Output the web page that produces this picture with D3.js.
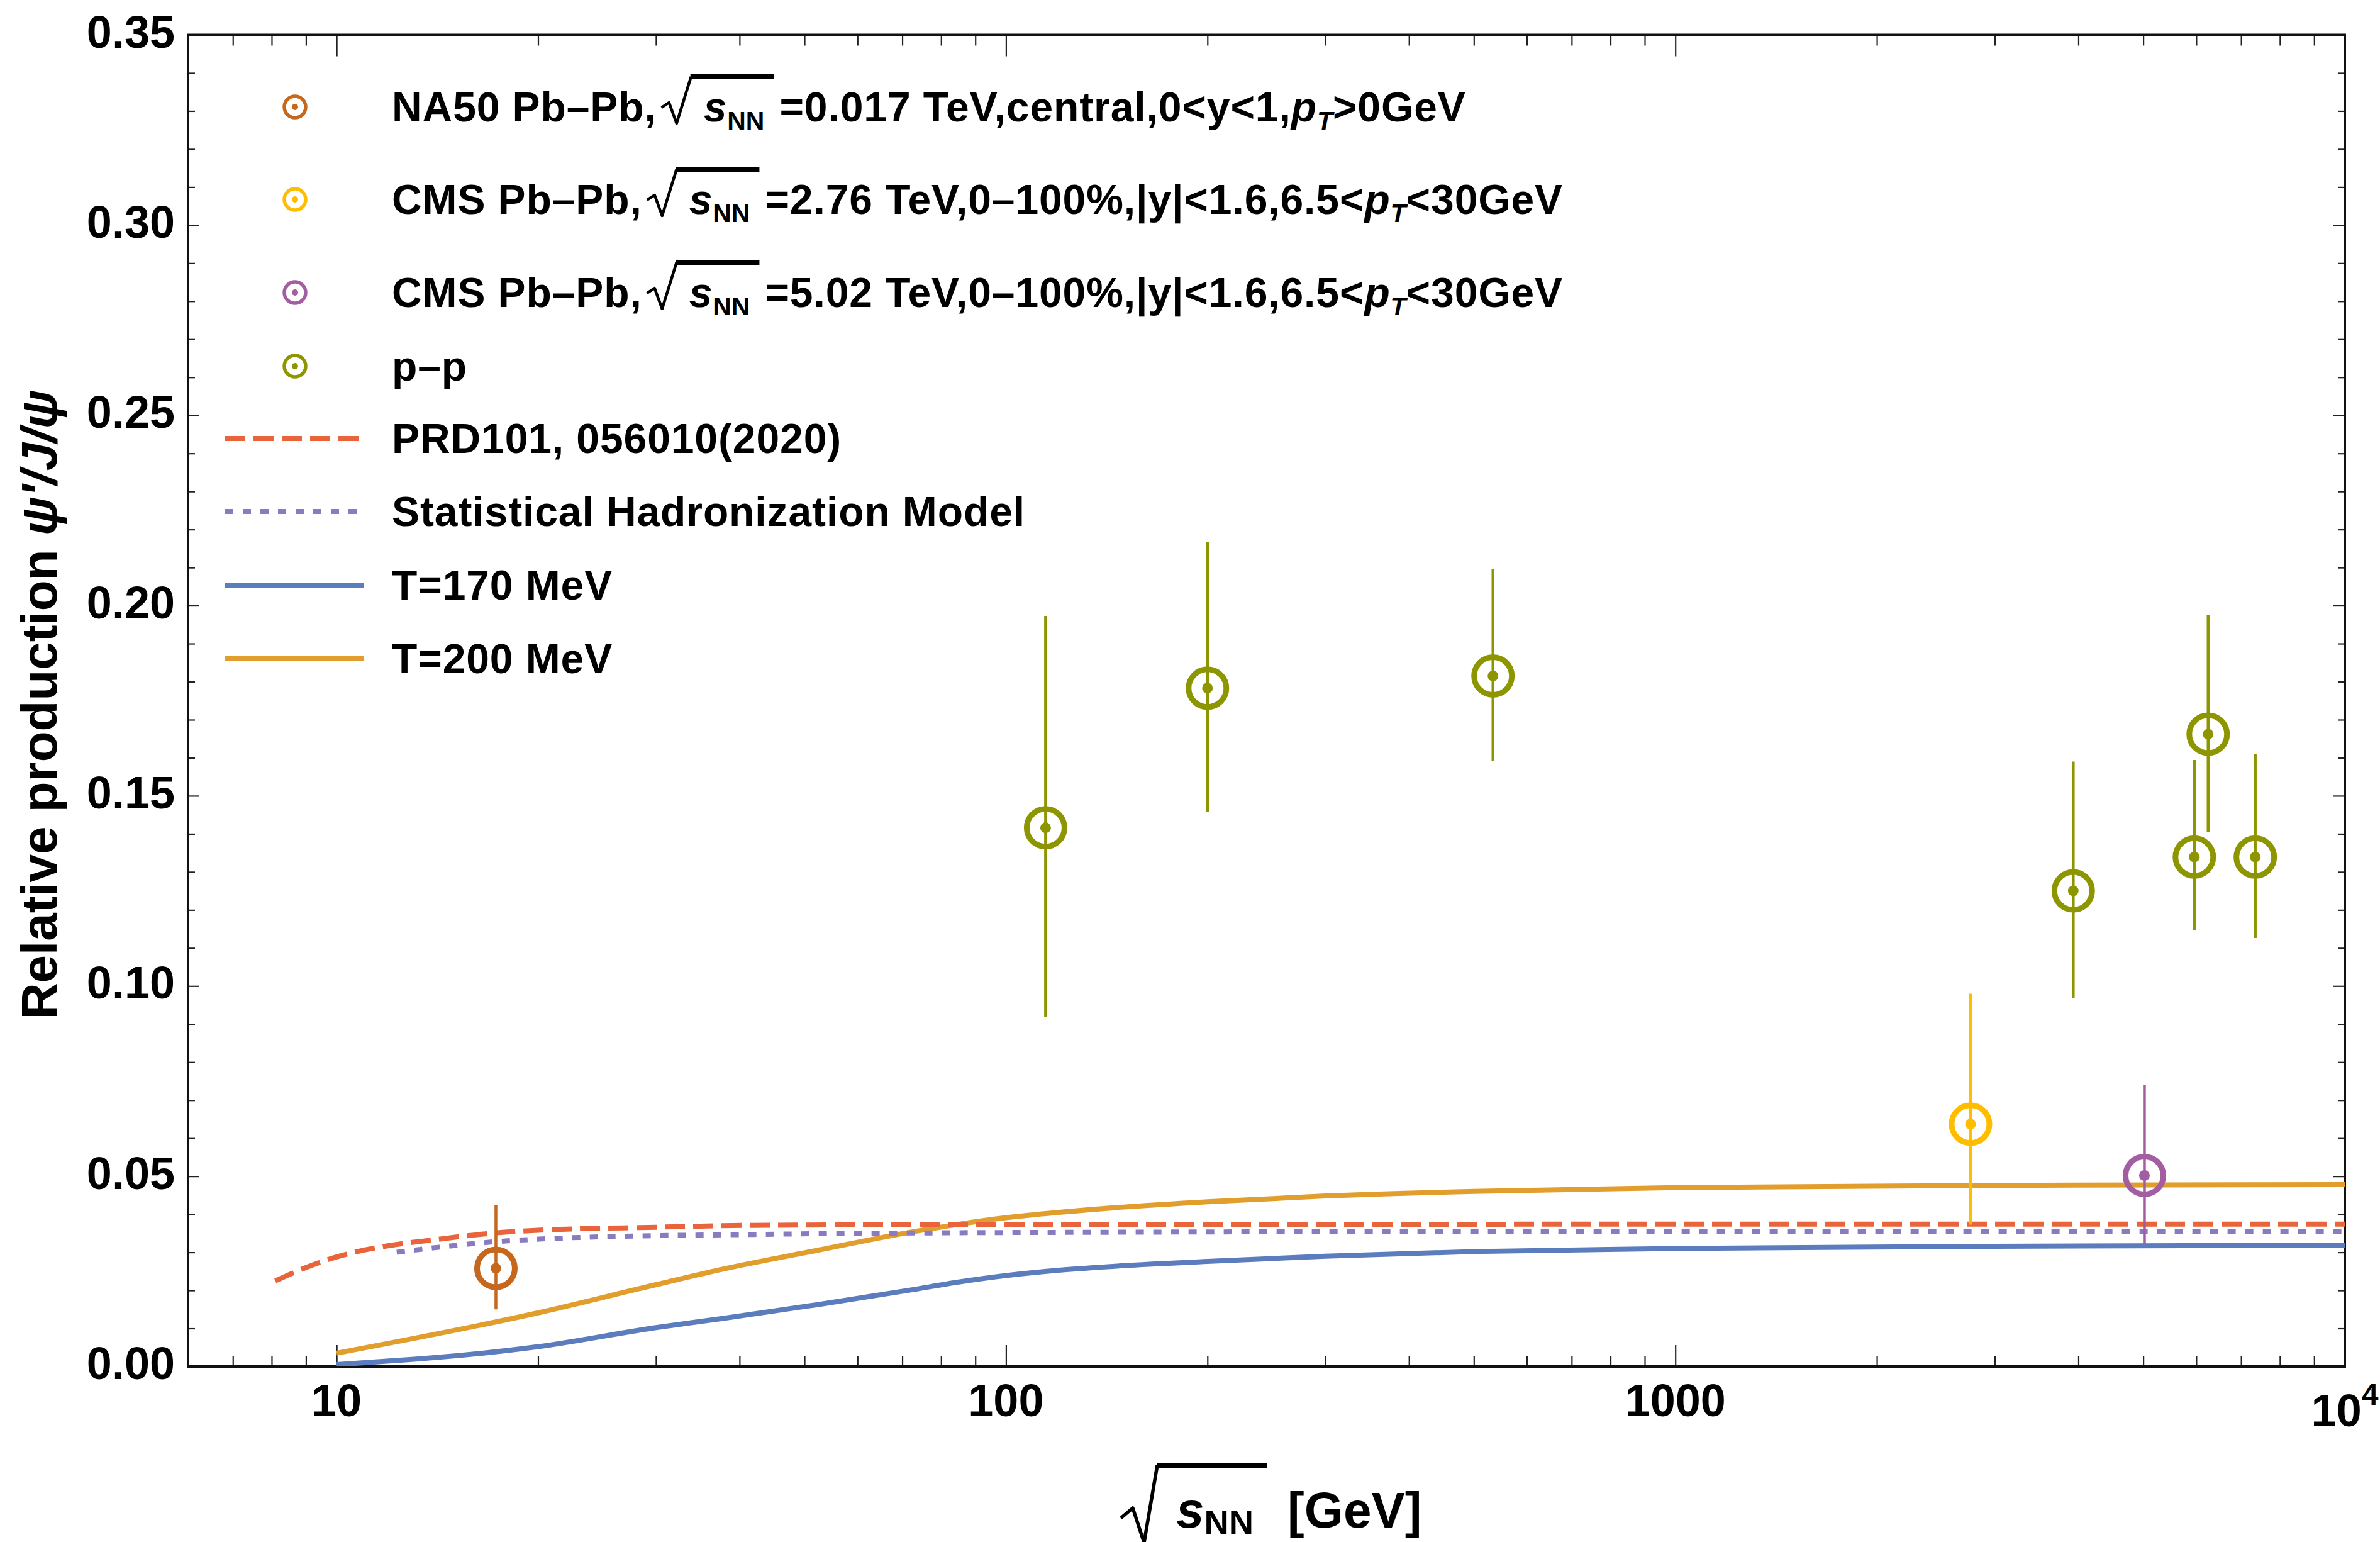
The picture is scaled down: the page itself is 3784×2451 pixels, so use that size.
<!DOCTYPE html>
<html><head><meta charset="utf-8">
<script src="https://cdn.jsdelivr.net/npm/d3@7"></script>
<style>
body{margin:0;background:#fff}
svg{display:block}
text{font-family:"Liberation Sans",Arial,Helvetica,sans-serif;font-weight:bold;white-space:pre}
</style>
</head><body>
<svg id="c" width="3784" height="2451"></svg>
<script>
// ---------- data ----------
const xMajorTicks = [10, 100, 1000, 10000];
const xTickLabels = ["10", "100", "1000", "10^4"];
const xMinorTicks = [7,8,9,20,30,40,50,60,70,80,90,200,300,400,500,600,700,800,900,2000,3000,4000,5000,6000,7000,8000,9000];
const yMajorTicks = [0, 0.05, 0.10, 0.15, 0.20, 0.25, 0.30, 0.35];
const yTickLabels = ["0.00","0.05","0.10","0.15","0.20","0.25","0.30","0.35"];
const yMinorTicks = [0.01,0.02,0.03,0.04,0.06,0.07,0.08,0.09,0.11,0.12,0.13,0.14,0.16,0.17,0.18,0.19,0.21,0.22,0.23,0.24,0.26,0.27,0.28,0.29,0.31,0.32,0.33,0.34];

// NA50 Pb-Pb
const na50X = [17.3];
const na50Y = [0.0258];
const na50Lo = [0.0150];
const na50Hi = [0.0424];
// CMS Pb-Pb 2.76 TeV
const cms276X = [2760];
const cms276Y = [0.0637];
const cms276Lo = [0.0373];
const cms276Hi = [0.0980];
// CMS Pb-Pb 5.02 TeV
const cms502X = [5020];
const cms502Y = [0.0502];
const cms502Lo = [0.0321];
const cms502Hi = [0.0739];
// p-p
const ppX  = [114.6, 200, 534, 3930, 5960, 6250, 7350];
const ppY  = [0.1416, 0.1783, 0.1815, 0.1250, 0.1339, 0.1662, 0.1339];
const ppLo = [0.0918, 0.1458, 0.1592, 0.0969, 0.1147, 0.1405, 0.1126];
const ppHi = [0.1973, 0.2168, 0.2097, 0.1590, 0.1594, 0.1976, 0.1610];

// model curves
const prdX = [8.1, 9, 10, 11, 12, 14, 17, 20, 30, 42, 100, 1000, 10000];
const prdY = [0.0225, 0.0260, 0.0288, 0.0306, 0.0318, 0.0333, 0.0350, 0.0358, 0.0366, 0.0371, 0.0373, 0.0374, 0.0374];
const shmX = [12.3, 14, 17, 23, 42, 100, 1000, 10000];
const shmY = [0.0300, 0.0312, 0.0327, 0.0339, 0.0347, 0.0352, 0.0355, 0.0355];
const t170X = [10, 20, 30, 38, 52.5, 72.6, 85, 100, 120, 150, 200, 300, 500, 1000, 3000, 10000];
const t170Y = [0.0005, 0.0052, 0.0102, 0.0127, 0.0163, 0.0202, 0.0222, 0.0239, 0.0253, 0.0265, 0.0276, 0.0290, 0.0302, 0.0310, 0.0316, 0.0319];
const t200X = [10, 20, 30, 38, 52.5, 72.6, 100, 120, 150, 200, 300, 500, 1000, 3000, 10000];
const t200Y = [0.0035, 0.0141, 0.0215, 0.0257, 0.0306, 0.0354, 0.0391, 0.0405, 0.0419, 0.0433, 0.0448, 0.0460, 0.0470, 0.0476, 0.0478];

const colNA50 = "#c5671d", colCMS276 = "#ffbd00", colCMS502 = "#a25ea0", colPP = "#8d9600";
const colPRD = "#e9643b", colSHM = "#8a7bc1", colT170 = "#5c7dbd", colT200 = "#e29e2d";

// ---------- layout ----------
const L = 299, R = 3728, T = 55.5, B = 2172;
const x = d3.scaleLog().domain([6, 10000]).range([L, R]);
const y = d3.scaleLinear().domain([0, 0.35]).range([B, T]);
const svg = d3.select("#c");

svg.append("defs").append("clipPath").attr("id","clip")
  .append("rect").attr("x",L).attr("y",T).attr("width",R-L).attr("height",B-T);

// ---------- axes (ticks on all four sides, pointing inward) ----------
function tickAxis(axisFn, scale, vals, size, tr) {
  const g = svg.append("g").attr("transform", tr)
    .call(axisFn(scale).tickValues(vals).tickSizeInner(size).tickSizeOuter(0).tickFormat(""));
  g.select(".domain").remove();
  g.selectAll(".tick line").attr("stroke","#222").attr("stroke-width",2.2);
  return g;
}
tickAxis(d3.axisBottom, x, xMajorTicks, -34, `translate(0,${B})`);
tickAxis(d3.axisBottom, x, xMinorTicks, -17, `translate(0,${B})`);
tickAxis(d3.axisTop, x, xMajorTicks, -34, `translate(0,${T})`);
tickAxis(d3.axisTop, x, xMinorTicks, -17, `translate(0,${T})`);
tickAxis(d3.axisLeft, y, yMajorTicks, -18, `translate(${L},0)`);
tickAxis(d3.axisLeft, y, yMinorTicks, -11, `translate(${L},0)`);
tickAxis(d3.axisRight, y, yMajorTicks, -18, `translate(${R},0)`);
tickAxis(d3.axisRight, y, yMinorTicks, -11, `translate(${R},0)`);

svg.append("rect").attr("x",L).attr("y",T).attr("width",R-L).attr("height",B-T)
  .attr("fill","none").attr("stroke","#111").attr("stroke-width",4);

// tick labels
yMajorTicks.forEach((v,i) => {
  svg.append("text").attr("x", 278).attr("y", y(v) + 20).attr("text-anchor","end")
    .attr("font-size",72).text(yTickLabels[i]);
});
xMajorTicks.forEach((v,i) => {
  const lab = xTickLabels[i];
  if (lab.includes("^")) {
    const [b, e] = lab.split("^");
    const t = svg.append("text").attr("x", x(v)).attr("y", 2267).attr("text-anchor","middle").attr("font-size",72);
    t.append("tspan").text(b);
    t.append("tspan").attr("dy",-34).attr("font-size",48).text(e);
  } else {
    svg.append("text").attr("x", x(v)).attr("y", 2251).attr("text-anchor","middle")
      .attr("font-size",72).text(lab);
  }
});

// ---------- rich text helper (radical, italics, subscripts) ----------
function drawParts(g, x0, base, parts, fs, o) {
  let cx = x0;
  for (const p of parts) {
    if (p.dx !== undefined) { cx += p.dx; continue; }
    if (p.rad) {
      const xs = cx + o.radGap;
      const end = drawParts(g, xs + o.radInner, base, p.rad, fs, o);
      const ovEnd = end + o.padR;
      g.append("path")
        .attr("d", `M${xs},${base+o.hy0} L${xs+o.hx1},${base+o.hy1} L${xs+o.vx},${base+o.vy} L${xs+o.tx},${base+o.ty+o.ot/2}`)
        .attr("fill","none").attr("stroke","#000").attr("stroke-width",o.sw).attr("stroke-linejoin","round");
      g.append("rect").attr("x", xs+o.tx-1).attr("y", base+o.ty).attr("width", ovEnd-(xs+o.tx-1))
        .attr("height", o.ot).attr("fill","#000");
      cx = ovEnd;
      continue;
    }
    const size = p.sub ? fs*o.subScale : fs;
    const t = g.append("text").attr("x",cx).attr("y", base + (p.sub ? o.subDy : 0))
      .attr("font-size", size).attr("font-style", p.it ? "italic" : "normal")
      .attr("letter-spacing", p.sub ? 0 : o.ls).text(p.t);
    cx += t.node().getComputedTextLength();
  }
  return cx;
}
const legOpt = {radGap:8, radInner:67, padR:15, hy0:-22, hx1:12, hy1:-30, vx:24, vy:3, tx:47, ty:-75, ot:8, sw:4.5, subScale:0.62, subDy:13, ls:0.9};
const titleOpt = {radGap:0, radInner:88, padR:21, hy0:-15, hx1:19, hy1:-31, vx:37, vy:24, tx:58, ty:-103, ot:8, sw:5.5, subScale:0.68, subDy:10, ls:0};

// ---------- curves ----------
const line = d3.line().x(d => x(d[0])).y(d => y(d[1])).curve(d3.curveMonotoneX);
const curves = svg.append("g").attr("clip-path","url(#clip)");
function drawCurve(xs, ys, col, dash) {
  curves.append("path").datum(xs.map((v,i) => [v, ys[i]])).attr("d", line)
    .attr("fill","none").attr("stroke",col).attr("stroke-width",8)
    .attr("stroke-dasharray", dash || null);
}
drawCurve(t170X, t170Y, colT170);
drawCurve(t200X, t200Y, colT200);
drawCurve(shmX, shmY, colSHM, "13,15");
drawCurve(prdX, prdY, colPRD, "32,13");

// ---------- data points ----------
function drawPoints(xs, ys, lo, hi, col) {
  const g = svg.append("g");
  xs.forEach((v,i) => {
    g.append("line").attr("x1",x(v)).attr("x2",x(v)).attr("y1",y(lo[i])).attr("y2",y(hi[i]))
      .attr("stroke",col).attr("stroke-width",4.5);
    g.append("circle").attr("cx",x(v)).attr("cy",y(ys[i])).attr("r",30)
      .attr("fill","none").attr("stroke",col).attr("stroke-width",9);
    g.append("circle").attr("cx",x(v)).attr("cy",y(ys[i])).attr("r",8.5).attr("fill",col);
  });
}
drawPoints(na50X, na50Y, na50Lo, na50Hi, colNA50);
drawPoints(cms276X, cms276Y, cms276Lo, cms276Hi, colCMS276);
drawPoints(cms502X, cms502Y, cms502Lo, cms502Hi, colCMS502);
drawPoints(ppX, ppY, ppLo, ppHi, colPP);

// ---------- legend ----------
const rad = {rad:[{t:"s",it:1},{t:"NN",sub:1}]};
const legendItems = [
  {type:"pt", col:colNA50, parts:[{t:"NA50 Pb\u2013Pb,"}, rad, {dx:9}, {t:"=0.017 TeV,central,0<y<1,"}, {t:"p",it:1}, {t:"T",it:1,sub:1}, {t:">0GeV"}]},
  {type:"pt", col:colCMS276, parts:[{t:"CMS Pb\u2013Pb,"}, rad, {dx:9}, {t:"=2.76 TeV,0\u2013100%,|y|<1.6,6.5<"}, {t:"p",it:1}, {t:"T",it:1,sub:1}, {t:"<30GeV"}]},
  {type:"pt", col:colCMS502, parts:[{t:"CMS Pb\u2013Pb,"}, rad, {dx:9}, {t:"=5.02 TeV,0\u2013100%,|y|<1.6,6.5<"}, {t:"p",it:1}, {t:"T",it:1,sub:1}, {t:"<30GeV"}]},
  {type:"pt", col:colPP, parts:[{t:"p\u2013p"}]},
  {type:"ln", col:colPRD, dash:"32,13", parts:[{t:"PRD101, 056010(2020)"}]},
  {type:"ln", col:colSHM, dash:"13,15", parts:[{t:"Statistical Hadronization Model"}]},
  {type:"ln", col:colT170, parts:[{t:"T=170 MeV"}]},
  {type:"ln", col:colT200, parts:[{t:"T=200 MeV"}]}
];
const legendRowY = [170, 317, 465, 582, 697, 813, 930, 1047];
const leg = svg.append("g");
legendItems.forEach((it, i) => {
  const ry = legendRowY[i];
  if (it.type === "pt") {
    leg.append("circle").attr("cx",469).attr("cy",ry).attr("r",17).attr("fill","none")
      .attr("stroke",it.col).attr("stroke-width",5.5);
    leg.append("circle").attr("cx",469).attr("cy",ry).attr("r",5).attr("fill",it.col);
  } else {
    leg.append("line").attr("x1",358).attr("x2",578).attr("y1",ry).attr("y2",ry)
      .attr("stroke",it.col).attr("stroke-width",8).attr("stroke-dasharray", it.dash || null);
  }
  drawParts(leg, 623, ry + 23, it.parts, 66, legOpt);
});

// ---------- axis titles ----------
const xt = svg.append("g");
drawParts(xt, 1782, 2428, [{rad:[{t:"s",it:1},{t:"NN",sub:1}]}, {dx:33}, {t:"[GeV]"}], 80, titleOpt);

const yt = svg.append("text").attr("transform","translate(90,1120) rotate(-90)")
  .attr("text-anchor","middle").attr("font-size",80);
yt.append("tspan").text("Relative production ");
yt.append("tspan").attr("font-style","italic").text("\u03c8'/J/\u03c8");
</script>
</body></html>
